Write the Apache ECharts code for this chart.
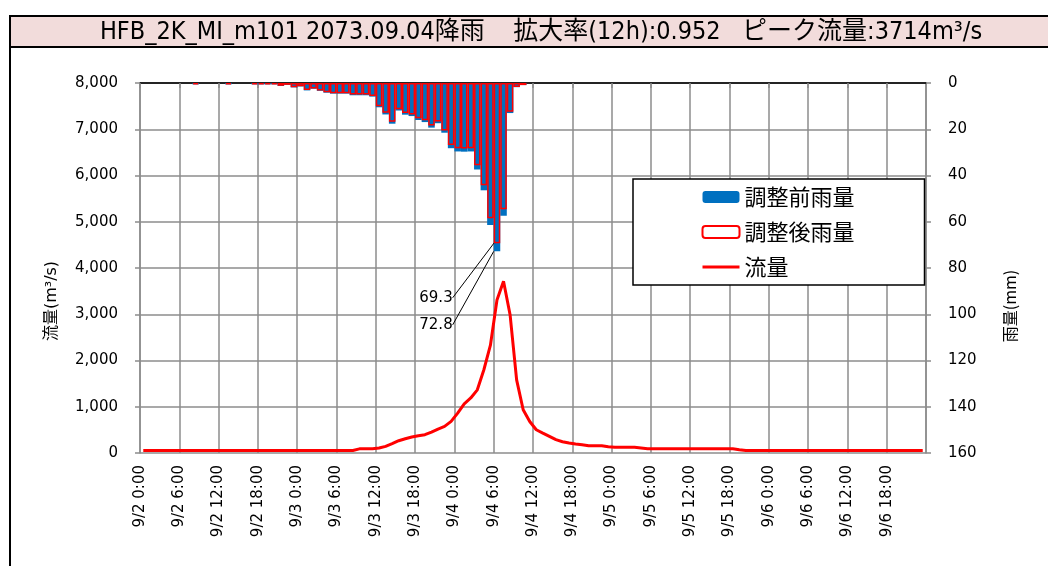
<!DOCTYPE html>
<html>
<head>
<meta charset="utf-8">
<script src="https://cdn.jsdelivr.net/npm/echarts@6/dist/echarts.min.js"></script>
<style>
html, body { margin: 0; padding: 0; background: #ffffff; }
#chart { width: 1048px; height: 566px; }
</style>
</head>
<body>
<div id="chart"></div>
<script>
// ---- data ----
var days = ['9/2', '9/3', '9/4', '9/5', '9/6'];
var categories = [];
days.forEach(function (d) { for (var h = 0; h < 24; h++) categories.push(d + ' ' + h + ':00'); });

var tickLabels = ['9/2 0:00', '9/2 6:00', '9/2 12:00', '9/2 18:00',
  '9/3 0:00', '9/3 6:00', '9/3 12:00', '9/3 18:00',
  '9/4 0:00', '9/4 6:00', '9/4 12:00', '9/4 18:00',
  '9/5 0:00', '9/5 6:00', '9/5 12:00', '9/5 18:00',
  '9/6 0:00', '9/6 6:00', '9/6 12:00', '9/6 18:00'];

// 調整前雨量 (mm/h)
var rainBefore = [
  0, 0, 0, 0, 0, 0, 0, 0, 0.6, 0, 0, 0, 0, 0.6, 0, 0, 0, 0.6, 0.6, 0.6, 0.6, 1.3, 0.8, 1.9,
  1.5, 3.2, 2.5, 3.4, 4.2, 4.6, 4.6, 4.6, 5.3, 5.3, 5.3, 5.9, 10.5, 13.6, 17.6, 11.9, 13.7, 14.3, 16.0, 16.9, 19.3, 17.4, 21.5, 28.2,
  29.6, 29.7, 29.6, 37.4, 46.4, 61.4, 72.8, 57.4, 13.0, 1.8, 0.9, 0, 0, 0, 0, 0, 0, 0, 0, 0, 0, 0, 0, 0,
  0, 0, 0, 0, 0, 0, 0, 0, 0, 0, 0, 0, 0, 0, 0, 0, 0, 0, 0, 0, 0, 0, 0, 0,
  0, 0, 0, 0, 0, 0, 0, 0, 0, 0, 0, 0, 0, 0, 0, 0, 0, 0, 0, 0, 0, 0, 0, 0
];
// 調整後雨量 (mm/h)
var rainAfter = [
  0, 0, 0, 0, 0, 0, 0, 0, 0.6, 0, 0, 0, 0, 0.6, 0, 0, 0, 0.6, 0.6, 0.6, 0.6, 1.2, 0.8, 1.8,
  1.4, 3.0, 2.4, 3.2, 4.0, 4.4, 4.4, 4.4, 5.0, 5.0, 5.0, 5.6, 10.0, 12.9, 16.8, 11.3, 13.0, 13.6, 15.2, 16.1, 18.4, 16.6, 20.5, 26.8,
  28.2, 28.3, 28.2, 35.6, 44.2, 58.5, 69.3, 54.6, 12.4, 1.7, 0.9, 0, 0, 0, 0, 0, 0, 0, 0, 0, 0, 0, 0, 0,
  0, 0, 0, 0, 0, 0, 0, 0, 0, 0, 0, 0, 0, 0, 0, 0, 0, 0, 0, 0, 0, 0, 0, 0,
  0, 0, 0, 0, 0, 0, 0, 0, 0, 0, 0, 0, 0, 0, 0, 0, 0, 0, 0, 0, 0, 0, 0, 0
];
// 流量 (m3/s)
var flow = [
  55, 55, 55, 55, 55, 55, 55, 55, 55, 55, 55, 55, 55, 55, 55, 55, 55, 55, 55, 55, 55, 55, 55, 55,
  55, 55, 55, 55, 55, 55, 55, 55, 55, 90, 90, 93, 108, 144, 201, 266, 309, 345, 374, 395, 453, 518, 575, 683,
  863, 1064, 1190, 1366, 1800, 2330, 3310, 3714, 2990, 1580, 935, 680, 503, 431, 360, 288, 244, 216, 194, 180, 158, 158, 158, 137,
  122, 122, 122, 122, 108, 93, 93, 93, 93, 93, 93, 93, 93, 93, 93, 93, 93, 93, 93, 72, 55, 55, 55, 55,
  55, 55, 55, 55, 55, 55, 55, 55, 55, 55, 55, 55, 55, 55, 55, 55, 55, 55, 55, 55, 55, 55, 55, 55
];

var titleText = 'HFB_2K_MI_m101 2073.09.04降雨    拡大率(12h):0.952   ピーク流量:3714m³/s';

// ---- build ----
function peakIndex(arr) { var m = 0; arr.forEach(function (v, i) { if (v > arr[m]) m = i; }); return m; }
var pB = peakIndex(rainBefore), pA = peakIndex(rainAfter);
function barData(arr, p) {
  return arr.map(function (v, i) {
    if (v === 0) return '-';
    if (i === p) return { value: v, label: { show: true } };
    return v;
  });
}

var numFont = 'DejaVu Sans';
var gridGrey = '#8c8c8c';

var chart = echarts.init(document.getElementById('chart'), null, { renderer: 'canvas' });
chart.setOption({
  backgroundColor: '#ffffff',
  animation: false,
  graphic: [
    { type: 'rect', z: -10, shape: { x: 10, y: 16, width: 1100, height: 600 }, style: { fill: '#ffffff', stroke: '#000', lineWidth: 2 } },
    { type: 'rect', z: -9, shape: { x: 10, y: 16, width: 1100, height: 31 }, style: { fill: '#F2DCDB', stroke: '#000', lineWidth: 2 } },
    { type: 'text', z: 10, x: 541, y: 32, style: { text: titleText, font: '25px "Liberation Sans Narrow", "DejaVu Sans Condensed", "Noto Sans CJK JP"', fill: '#000', textAlign: 'center', textVerticalAlign: 'middle' } },
    { type: 'text', z: 10, x: 52, y: 301, rotation: Math.PI / 2, style: { text: '流量(m³/s)', font: '16px "DejaVu Sans", "Noto Sans CJK JP"', fill: '#000', textAlign: 'center', textVerticalAlign: 'middle' } },
    { type: 'text', z: 10, x: 1010, y: 306, rotation: Math.PI / 2, style: { text: '雨量(mm)', font: '16px "Noto Sans CJK JP"', fill: '#000', textAlign: 'center', textVerticalAlign: 'middle' } }
  ],
  legend: {
    orient: 'vertical',
    left: 633, top: 179,
    padding: [7, 70, 7, 68],
    itemGap: 13,
    itemWidth: 37, itemHeight: 12,
    backgroundColor: '#ffffff',
    borderColor: '#000', borderWidth: 1.5,
    textStyle: { fontSize: 22, color: '#000', fontFamily: 'Noto Sans CJK JP' },
    data: [
      { name: '調整前雨量' },
      { name: '調整後雨量' },
      { name: '流量', itemStyle: { opacity: 0 }, lineStyle: { width: 3, color: '#FF0000' } }
    ]
  },
  grid: { left: 140, right: 122, top: 83, bottom: 113, containLabel: false },
  xAxis: [
    { type: 'category', data: categories, boundaryGap: true, show: false },
    {
      type: 'value', min: 0, max: categories.length, interval: 6, position: 'bottom',
      axisLine: { show: true, lineStyle: { color: gridGrey, width: 1.5 } },
      axisTick: { show: true, inside: false, length: 5, lineStyle: { color: gridGrey, width: 1.5 } },
      axisLabel: {
        rotate: 90, margin: 12, color: '#000', fontSize: 15, fontFamily: numFont,
        showMaxLabel: false,
        formatter: function (v) { return tickLabels[Math.round(v / 6)] || ''; }
      },
      splitLine: { show: true, lineStyle: { color: gridGrey, width: 1.5 } }
    },
    {
      type: 'category', data: categories, position: 'top',
      axisLine: { show: true, lineStyle: { color: '#000', width: 1.5 } },
      axisTick: { show: false }, axisLabel: { show: false }, splitLine: { show: false }
    }
  ],
  yAxis: [
    {
      type: 'value', min: 0, max: 8000, interval: 1000, position: 'left',
      axisLine: { show: true, lineStyle: { color: gridGrey, width: 1.5 } },
      axisTick: { show: true, length: 5, lineStyle: { color: gridGrey, width: 1.5 } },
      axisLabel: { margin: 22, color: '#000', fontSize: 15, fontFamily: numFont,
        formatter: function (v) { return v.toLocaleString('en-US'); } },
      splitLine: { show: true, lineStyle: { color: gridGrey, width: 1.5 } }
    },
    {
      type: 'value', min: 0, max: 160, interval: 20, position: 'right', inverse: true,
      axisLine: { show: true, lineStyle: { color: gridGrey, width: 1.5 } },
      axisTick: { show: true, length: 5, lineStyle: { color: gridGrey, width: 1.5 } },
      axisLabel: { margin: 22, color: '#000', fontSize: 15, fontFamily: numFont },
      splitLine: { show: false }
    }
  ],
  series: [
    {
      name: '調整前雨量', type: 'bar', xAxisIndex: 0, yAxisIndex: 1,
      data: barData(rainBefore, pB),
      barCategoryGap: '0%', barGap: '-100%', z: 2,
      itemStyle: { color: '#0070C0' },
      label: { show: false, position: 'bottom', color: '#000', fontSize: 15, fontFamily: numFont, formatter: '{c}' },
      labelLayout: { dx: -61, dy: 61 },
      labelLine: { show: true, lineStyle: { color: '#000', width: 1 } }
    },
    {
      name: '調整後雨量', type: 'bar', xAxisIndex: 0, yAxisIndex: 1,
      data: barData(rainAfter, pA),
      barCategoryGap: '0%', barGap: '-100%', z: 3,
      itemStyle: { color: 'rgba(255,255,255,0)', borderColor: '#FF0000', borderWidth: 1.5 },
      label: { show: false, position: 'bottom', color: '#000', fontSize: 15, fontFamily: numFont, formatter: '{c}' },
      labelLayout: { dx: -61, dy: 42 },
      labelLine: { show: true, lineStyle: { color: '#000', width: 1 } }
    },
    {
      name: '流量', type: 'line', xAxisIndex: 0, yAxisIndex: 0,
      data: flow, symbol: 'none', z: 4,
      itemStyle: { color: '#FF0000' },
      lineStyle: { color: '#FF0000', width: 3 }
    }
  ]
});
</script>
</body>
</html>
